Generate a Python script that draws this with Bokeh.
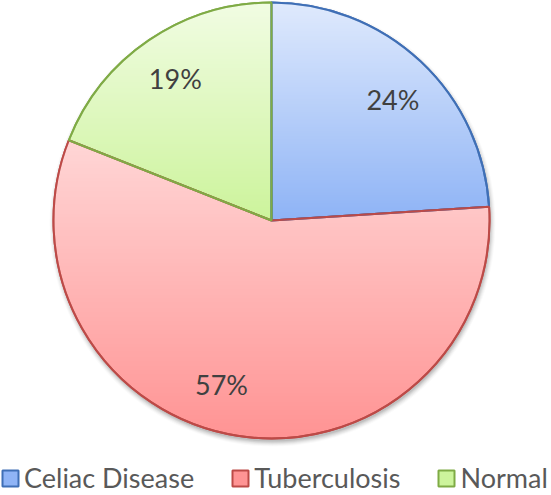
import numpy as np
from bokeh.plotting import figure
from bokeh.models import Range1d, Legend, LegendItem, ColumnDataSource
from bokeh.core.properties import value
from bokeh.embed import file_html
from bokeh.resources import INLINE

# ---- data ----
categories = ["Celiac Disease", "Tuberculosis", "Normal"]
percentages = [24, 57, 19]
labels = ["24%", "57%", "19%"]

# ---- styles ----
fill_colors = ["#8fb4f6", "#ff9494", "#cdf49c"]
line_colors = ["#3f6fb6", "#bd4a47", "#7fab45"]
top_lightening = [0.72, 0.62, 0.72]
label_angle_nudge_deg = [2, 8, 0]   # label placement tweak (layout only)

W, H = 551, 495
cx, cy, R = 271, 275, 218

frac = np.array(percentages, dtype=float) / sum(percentages)
cum = np.concatenate([[0.0], np.cumsum(frac)]) * 2 * np.pi  # clockwise from top
start_cw, end_cw = cum[:-1], cum[1:]
mid_cw = (start_cw + end_cw) / 2 + np.radians(label_angle_nudge_deg)

src = ColumnDataSource(dict(
    cat=categories,
    start=np.pi / 2 - start_cw,
    end=np.pi / 2 - end_cw,
    fill=fill_colors,
    line=line_colors,
    lx=cx + 0.785 * R * np.sin(mid_cw),
    ly=cy + 0.785 * R * np.cos(mid_cw),
    lab=labels,
))

p = figure(width=W, height=H, x_range=Range1d(0, W), y_range=Range1d(0, H),
           min_border=0, toolbar_location=None, output_backend="svg",
           x_axis_type=None, y_axis_type=None)
p.grid.visible = False
p.outline_line_color = None
p.background_fill_color = "white"
p.border_fill_color = "white"

# soft shadow
for k, a in enumerate([0.07, 0.06, 0.05, 0.04, 0.03, 0.02]):
    p.circle(x=cx + 1, y=cy - 3, radius=R + k, radius_units="data",
             fill_color="#000000", fill_alpha=a, line_color=None)

# base slices
base = p.wedge(x=cx, y=cy, radius=R, start_angle="start", end_angle="end",
               direction="clock", fill_color="fill", line_color="line",
               line_width=2, source=src)

# vertical gradient overlay per slice (lighter at top of each slice)
N = 2 * R
ys, xs = np.mgrid[0:N, 0:N]
u = (xs + 0.5 - R) / R
v = (ys + 0.5 - R) / R
rr = np.hypot(u, v)
ang = np.mod(np.pi / 2 - np.arctan2(v, u), 2 * np.pi)
idx = np.clip(np.searchsorted(end_cw, ang, side="right"), 0, len(percentages) - 1)
ymin, ymax = [], []
for s, e in zip(start_cw, end_cw):
    th = np.linspace(s, e, 500)
    vy = np.concatenate([np.cos(th), [0.0]])
    ymin.append(vy.min())
    ymax.append(vy.max())
ymin, ymax = np.array(ymin), np.array(ymax)
t = np.clip((ymax[idx] - v) / (ymax[idx] - ymin[idx]), 0, 1)
alpha = np.array(top_lightening)[idx] * (1 - t)
alpha[rr > 1.0] = 0
img = np.zeros((N, N), dtype=np.uint32)
view = img.view(dtype=np.uint8).reshape((N, N, 4))
view[:, :, 0] = 255
view[:, :, 1] = 255
view[:, :, 2] = 255
view[:, :, 3] = (alpha * 255).astype(np.uint8)
p.image_rgba(image=[img], x=cx - R, y=cy - R, dw=N, dh=N)

# outlines on top
p.wedge(x=cx, y=cy, radius=R, start_angle="start", end_angle="end",
        direction="clock", fill_alpha=0, line_color="line", line_width=2,
        source=src)

# percentage labels
p.text(x="lx", y="ly", text="lab", source=src, text_align="center",
       text_baseline="middle", text_font=value("Lato"),
       text_font_size="27px", text_color="#404040")

legend = Legend(items=[LegendItem(label=c, renderers=[base], index=i)
                       for i, c in enumerate(categories)],
                orientation="horizontal", location=(0, 1), spacing=36,
                glyph_width=20, glyph_height=20, label_standoff=4,
                padding=0, margin=0, border_line_color=None,
                background_fill_alpha=0, label_text_font="Lato",
                label_text_font_size="27px", label_text_color="#595959",
                label_height=30, label_text_baseline="middle")
p.add_layout(legend)

open("out.html", "w").write(file_html(p, INLINE))
